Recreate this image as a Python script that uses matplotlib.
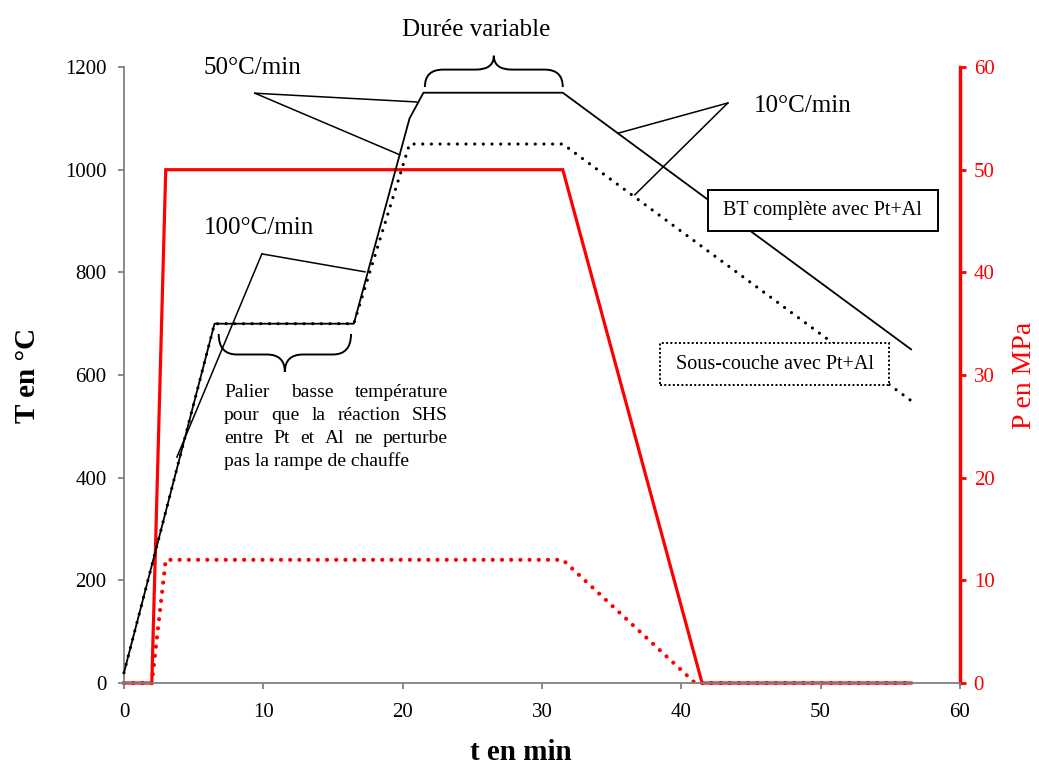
import matplotlib
matplotlib.use('Agg')
import matplotlib.pyplot as plt
from matplotlib.path import Path
from matplotlib.patches import PathPatch, Rectangle
from matplotlib.transforms import IdentityTransform

plt.rcParams['font.family'] = ['Liberation Serif', 'DejaVu Serif']

# temperature cycles (t in min, T in degC)
t_bt = [0, 6.5, 16.5, 20.5, 21.5, 31.5, 56.5]
T_bt = [20, 700, 700, 1100, 1150, 1150, 650]
t_sc = [0, 6.5, 16.5, 20.5, 31.5, 56.5]
T_sc = [20, 700, 700, 1050, 1050, 550]

# pressure cycles (t in min, P in MPa)
t_p_bt = [0, 2, 3, 31.5, 41.5, 56.5]
P_bt = [0, 0, 50, 50, 0, 0]
t_p_sc = [0, 2, 3, 31.5, 41, 56.5]
P_sc = [0, 0, 12, 12, 0, 0]

x_ticks = [0, 10, 20, 30, 40, 50, 60]
T_ticks = [0, 200, 400, 600, 800, 1000, 1200]
P_ticks = [0, 10, 20, 30, 40, 50, 60]

palier_lines = ["Palier basse température",
                "pour que la réaction SHS",
                "entre Pt et Al ne perturbe",
                "pas la rampe de chauffe"]

fig = plt.figure(figsize=(10.39, 7.67), dpi=100)
ax = fig.add_axes([0.1193, 0.1095, 0.8045, 0.8031])
ax2 = ax.twinx()

ax.set_xlim(0, 60)
ax.set_ylim(0, 1200)
ax2.set_ylim(0, 60)
ax.set_xticks(x_ticks)
ax.set_yticks(T_ticks)
ax2.set_yticks(P_ticks)

ax.spines['top'].set_visible(False)
ax2.spines['top'].set_visible(False)
ax.spines['right'].set_visible(False)
for s in ['left', 'bottom']:
    ax.spines[s].set_color('#808080')
    ax.spines[s].set_linewidth(1.3)
ax2.spines['left'].set_visible(False)
ax2.spines['bottom'].set_visible(False)
ax2.spines['right'].set_color('red')
ax2.spines['right'].set_linewidth(2.5)

ax.tick_params(axis='y', direction='out', length=4.5, width=1.3,
               color='#808080', labelsize=15, pad=8)
ax.tick_params(axis='x', direction='out', length=4.5, width=1.3,
               color='#808080', labelsize=15, pad=10)
ax2.tick_params(axis='y', direction='out', length=4, width=2,
                color='red', labelcolor='red', labelsize=15, pad=6)

# pressure curves
ax2.plot(t_p_bt, P_bt, color='red', lw=2.3, clip_on=False, zorder=3,
         solid_joinstyle='miter')
ax2.plot(t_p_sc, P_sc, color='red', lw=3, linestyle=(0, (0.01, 2.2)),
         dash_capstyle='round', clip_on=False, zorder=3)

# temperature curves
ax.set_zorder(ax2.get_zorder() + 1)
ax.patch.set_visible(False)
ax.plot(t_bt, T_bt, color='black', lw=1.3, clip_on=False, zorder=3)
ax.plot(t_sc, T_sc, color='black', lw=2.3, linestyle=(0, (0.01, 2.7)),
        dash_capstyle='round', clip_on=False, zorder=3)

# leader lines for the ramp rates
def leader(tip, ends):
    for e in ends:
        ax.plot([tip[0], e[0]], [tip[1], e[1]], color='black', lw=1.1,
                clip_on=False, zorder=2)

leader((9.4, 1149), [(21.0, 1132), (19.8, 1029)])
leader((9.9, 836), [(17.3, 801), (3.8, 440)])
leader((43.35, 1130), [(35.45, 1071), (36.67, 951)])

ax.text(9.2, 1198, "50°C/min", fontsize=18, ha='center', va='center')
ax.text(9.7, 886, "100°C/min", fontsize=18, ha='center', va='center')
ax.text(48.7, 1124, "10°C/min", fontsize=18, ha='center', va='center')
ax.text(25.3, 1272, "Durée variable", fontsize=18, ha='center',
        va='center')

# curly braces
def brace(x0, x1, ye, ym, yt, q=1.3):
    xm = (x0 + x1) / 2
    verts = [(x0, ye), (x0, ym), (x0 + q, ym), (xm - q, ym),
             (xm, ym), (xm, yt), (xm, ym), (xm + q, ym),
             (x1 - q, ym), (x1, ym), (x1, ye)]
    codes = [Path.MOVETO, Path.CURVE3, Path.CURVE3, Path.LINETO,
             Path.CURVE3, Path.CURVE3, Path.CURVE3, Path.CURVE3,
             Path.LINETO, Path.CURVE3, Path.CURVE3]
    ax.add_patch(PathPatch(Path(verts, codes), fc='none', ec='black',
                           lw=1.4, clip_on=False, zorder=4))

brace(21.6, 31.5, 1161, 1195, 1222)
brace(6.8, 16.3, 680, 640, 606)

# legend boxes
ax.add_patch(Rectangle((41.9, 880), 16.5, 80, fc='white', ec='black',
                       lw=1.4, zorder=5, clip_on=False))
ax.text(50.15, 920, "BT complète avec Pt+Al", fontsize=14.5,
        ha='center', va='center', zorder=6)
ax.add_patch(Rectangle((38.47, 580), 16.44, 82, fc='white', ec='black',
                       lw=1.4, linestyle=(0, (1, 1.2)), zorder=5,
                       clip_on=False))
ax.text(46.7, 620, "Sous-couche avec Pt+Al", fontsize=14.5,
        ha='center', va='center', zorder=6)

# justified paragraph (pixel placement)
renderer = fig.canvas.get_renderer()
left_px, right_px = 224, 448
baselines = [397, 420, 443, 466]
H = 767
for i, line in enumerate(palier_lines):
    words = line.split()
    y = H - baselines[i]
    if i == len(palier_lines) - 1:
        fig.text(left_px, y, line, fontsize=14, ha='left', va='baseline',
                 transform=IdentityTransform())
        continue
    widths = []
    for w in words:
        t = fig.text(0, 0, w, fontsize=14, transform=IdentityTransform())
        widths.append(t.get_window_extent(renderer).width)
        t.remove()
    gap = (right_px - left_px - sum(widths)) / (len(words) - 1)
    x = left_px
    for w, wd in zip(words, widths):
        fig.text(x, y, w, fontsize=14, ha='left', va='baseline',
                 transform=IdentityTransform())
        x += wd + gap

ax.set_xlabel("t en min", fontsize=21, fontweight='bold', va='center')
ax.set_ylabel("T en °C", fontsize=21, fontweight='bold', va='center')
ax2.set_ylabel("P en MPa", fontsize=20, color='red', va='center')
ax.xaxis.set_label_coords(0.475, -0.112)
ax.yaxis.set_label_coords(-0.115, 0.5)
ax2.yaxis.set_label_coords(1.077, 0.5)

fig.savefig('out.png', dpi=100)
